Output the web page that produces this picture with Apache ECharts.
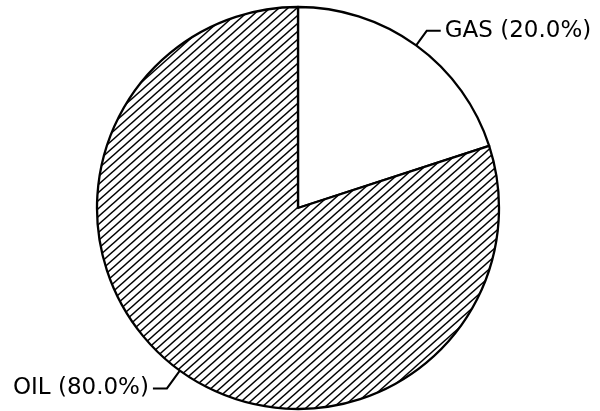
<!DOCTYPE html>
<html>
<head>
<meta charset="utf-8">
<title>Oil / Gas</title>
<script src="https://cdn.jsdelivr.net/npm/echarts@6/dist/echarts.min.js"></script>
<style>
  html, body { margin: 0; padding: 0; background: #fff; }
</style>
</head>
<body>
<div id="main" style="width:600px;height:411px;"></div>
<script>
var names = ['GAS', 'OIL'];
var values = [20, 80];

// diagonal hatch tile
function hatch() {
    var w = 9, h = 8;
    var c = document.createElement('canvas');
    c.width = w; c.height = h;
    var ctx = c.getContext('2d');
    ctx.fillStyle = '#fff';
    ctx.fillRect(0, 0, w, h);
    ctx.strokeStyle = '#000';
    ctx.lineWidth = 1.4;
    for (var k = 0; k <= 2; k++) {
        ctx.beginPath();
        ctx.moveTo(-w, k * h + h);
        ctx.lineTo(2 * w, k * h - 2 * h);
        ctx.stroke();
    }
    return c;
}

var total = values.reduce(function (a, b) { return a + b; }, 0);
var data = [];
for (var i = 0; i < names.length; i++) {
    var oil = names[i] == 'OIL';
    data.push({
        name: names[i],
        value: values[i],
        itemStyle: { color: oil ? { image: hatch(), repeat: 'repeat' } : '#fff' },
        label: { padding: oil ? [3, 0, 0, 0] : [9, 0, 0, 0] },
        labelLine: { length: oil ? 22 : 18 }
    });
}

var option = {
    backgroundColor: '#fff',
    animation: false,
    series: [{
        type: 'pie',
        center: [298, 208],
        radius: 201,
        startAngle: 90,
        clockwise: true,
        avoidLabelOverlap: false,
        itemStyle: { borderColor: '#000', borderWidth: 2.3 },
        label: {
            show: true,
            position: 'outside',
            color: '#000',
            fontFamily: 'DejaVu Sans',
            fontSize: 23,
            distanceToLabelLine: 4,
            formatter: function (p) {
                return p.name + ' (' + (p.value / total * 100).toFixed(1) + '%)';
            }
        },
        labelLine: {
            show: true,
            length: 18,
            length2: 14,
            smooth: false,
            lineStyle: { color: '#000', width: 2 }
        },
        emphasis: { disabled: true },
        data: data
    }]
};

var myChart = echarts.init(document.getElementById('main'));
myChart.setOption(option);
</script>
</body>
</html>
